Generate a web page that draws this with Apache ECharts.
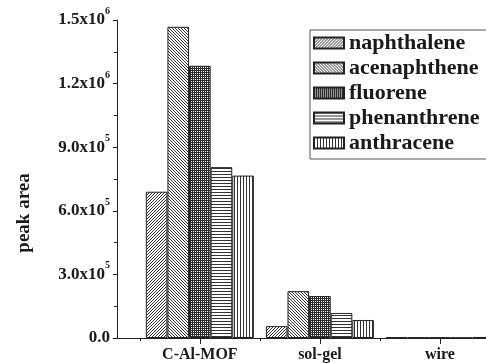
<!DOCTYPE html>
<html>
<head>
<meta charset="utf-8">
<script src="https://cdn.jsdelivr.net/npm/echarts@6/dist/echarts.min.js"></script>
<style>
html,body{margin:0;padding:0;background:#fff;}
#chart{width:486px;height:363px;}
</style>
</head>
<body>
<div id="chart"></div>
<script>
// ---- data ----
var categories = ['C-Al-MOF', 'sol-gel', 'wire'];
var categoryPos = [1, 2, 3];
var seriesNames = ['naphthalene', 'acenaphthene', 'fluorene', 'phenanthrene', 'anthracene'];
var naphthalene  = [690000, 56000, 3000];
var acenaphthene = [1468000, 221000, 2000];
var fluorene     = [1284000, 198000, 2500];
var phenanthrene = [806000, 118000, 1500];
var anthracene   = [766000, 85000, 5000];
var yTickValues  = [0, 300000, 600000, 900000, 1200000, 1500000];
var yTickMant    = ['0.0', '3.0x10', '6.0x10', '9.0x10', '1.2x10', '1.5x10'];
var yTickExp     = ['', '5', '5', '5', '6', '6'];
var xMinorTicks  = [0.5, 1.5, 2.5, 3.5];

var seriesData = [naphthalene, acenaphthene, fluorene, phenanthrene, anthracene];
var patternKinds = ['fwd', 'back', 'cross', 'horiz', 'vert'];

function makePattern(kind) {
  var n = (kind === 'cross') ? 4 : 3;
  var c = document.createElement('canvas');
  c.width = n; c.height = n;
  var ctx = c.getContext('2d');
  if (kind === 'cross') {
    ctx.fillStyle = '#2a2a2a'; ctx.fillRect(0, 0, n, n);
    ctx.fillStyle = '#ffffff';
    for (var x = 0; x < n; x++) for (var y = 0; y < n; y++) {
      if (x % 2 === 1 && y % 2 === 1) ctx.fillRect(x, y, 1, 1);
    }
  } else {
    ctx.fillStyle = '#ffffff'; ctx.fillRect(0, 0, n, n);
    ctx.fillStyle = '#333333';
    for (var x2 = 0; x2 < n; x2++) for (var y2 = 0; y2 < n; y2++) {
      var on = false;
      if (kind === 'fwd') on = (x2 + y2) % n === n - 1;
      else if (kind === 'back') on = (x2 - y2 + n) % n === 0;
      else if (kind === 'horiz') on = y2 === 0;
      else if (kind === 'vert') on = x2 === 0;
      if (on) ctx.fillRect(x2, y2, 1, 1);
    }
  }
  return { image: c, repeat: 'repeat' };
}

var FONT = 'Liberation Serif';
var chart = echarts.init(document.getElementById('chart'), null, { renderer: 'canvas' });

var series = seriesNames.map(function (name, i) {
  return {
    name: name,
    type: 'bar',
    xAxisIndex: 0,
    yAxisIndex: 0,
    barGap: '0%',
    barCategoryGap: '10%',
    itemStyle: { color: makePattern(patternKinds[i]), borderColor: '#222', borderWidth: 1 },
    emphasis: { disabled: true },
    data: categoryPos.map(function (p, j) { return [p, seriesData[i][j]]; })
  };
});

var option = {
  animation: false,
  backgroundColor: '#fff',
  grid: { left: 117, top: 20, right: -26, bottom: 25, containLabel: false, outerBoundsMode: 'none' },
  legend: {
    orient: 'vertical',
    left: 310, top: 30,
    width: 220,
    padding: [2, 80, 5, 3],
    itemGap: 3,
    itemWidth: 30, itemHeight: 11,
    icon: 'rect',
    borderColor: '#555', borderWidth: 1,
    textStyle: { fontFamily: FONT, fontWeight: 'bold', fontSize: 22, color: '#1a1a1a', lineHeight: 20 },
    data: seriesNames
  },
  xAxis: [{
    type: 'value',
    min: 0.31, max: 3.6,
    axisLine: { show: true, onZero: false, lineStyle: { color: '#222', width: 1 } },
    axisTick: { show: true, length: 6, lineStyle: { color: '#222' }, customValues: categoryPos },
    axisLabel: {
      show: true, margin: 9, customValues: categoryPos,
      fontFamily: FONT, fontWeight: 'bold', fontSize: 16, color: '#1a1a1a',
      formatter: function (v) { var k = categoryPos.indexOf(v); return k >= 0 ? categories[k] : ''; }
    },
    splitLine: { show: false }
  }, {
    type: 'value',
    min: 0.31, max: 3.6,
    position: 'bottom',
    axisLine: { show: false },
    axisTick: { show: true, length: 3, lineStyle: { color: '#222' }, customValues: xMinorTicks },
    axisLabel: { show: false },
    splitLine: { show: false }
  }],
  yAxis: {
    type: 'value',
    min: 0, max: 1500000, interval: 300000,
    name: 'peak area',
    nameLocation: 'middle',
    nameRotate: 90,
    nameGap: 83,
    nameTextStyle: { fontFamily: FONT, fontWeight: 'bold', fontSize: 19, color: '#1a1a1a', padding: [0, 68, 0, 0] },
    axisLine: { show: true, lineStyle: { color: '#222', width: 1 } },
    axisTick: { show: true, length: 4, inside: false, lineStyle: { color: '#222' } },
    minorTick: { show: true, splitNumber: 2, length: 3, lineStyle: { color: '#222' } },
    splitLine: { show: false },
    axisLabel: {
      margin: 7,
      formatter: function (v) {
        var k = yTickValues.indexOf(v);
        if (k < 0) return '';
        return yTickExp[k] ? '{m|' + yTickMant[k] + '}{e|' + yTickExp[k] + '}' : '{m|' + yTickMant[k] + '}';
      },
      rich: {
        m: { fontFamily: FONT, fontWeight: 'bold', fontSize: 17, color: '#1a1a1a', lineHeight: 27 },
        e: { fontFamily: FONT, fontWeight: 'bold', fontSize: 10, color: '#1a1a1a', lineHeight: 10, verticalAlign: 'top' }
      }
    }
  },
  series: series
};
chart.setOption(option);
</script>
</body>
</html>
